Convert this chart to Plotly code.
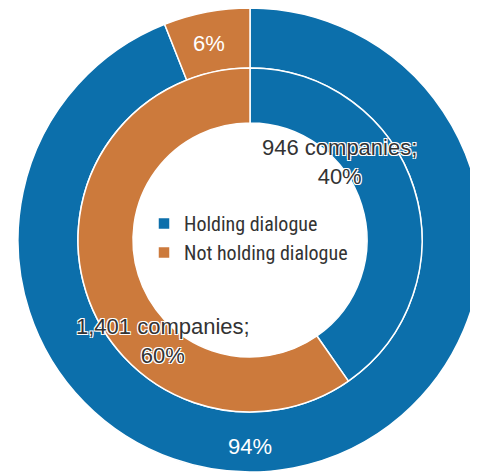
import plotly.graph_objects as go

# data
labels = ["Holding dialogue", "Not holding dialogue"]
inner_companies = [946, 1401]
inner_pct = [40, 60]
outer_pct = [94, 6]

colors = ["#0C6FAB", "#CC7A3C"]

W, H = 478, 475
OFF = 8  # page body margin
CX, CY = 250 - OFF, 240 - OFF
R_OUT = 232
R_MID = 172
R_HOLE = 117


def domain(r):
    return dict(x=[(CX - r) / W, (CX + r) / W],
                y=[1 - (CY + r) / H, 1 - (CY - r) / H])


def paper(px, py):
    return (px - OFF) / W, 1 - (py - OFF) / H


fig = go.Figure()

# outer ring
fig.add_trace(go.Pie(
    labels=labels,
    values=outer_pct,
    domain=domain(R_OUT),
    hole=R_MID / R_OUT,
    sort=False,
    direction="clockwise",
    rotation=0,
    marker=dict(colors=colors, line=dict(color="white", width=1.5)),
    textinfo="none",
    hoverinfo="label+percent",
    showlegend=True,
))

# inner ring
fig.add_trace(go.Pie(
    labels=labels,
    values=inner_companies,
    domain=domain(R_MID),
    hole=R_HOLE / R_MID,
    sort=False,
    direction="clockwise",
    rotation=0,
    marker=dict(colors=colors, line=dict(color="white", width=1.5)),
    textinfo="none",
    hoverinfo="label+value+percent",
    showlegend=False,
))

outline = "-1px -1px 0 #fff, 1px -1px 0 #fff, -1px 1px 0 #fff, 1px 1px 0 #fff"
dark_font = dict(family="Liberation Sans, Arial, sans-serif", size=22, color="#333333",
                 shadow=outline)

# inner ring labels
inner_label_pos = [(339, 162), (163, 341)]
for n, p, pos in zip(inner_companies, inner_pct, inner_label_pos):
    x, y = paper(*pos)
    fig.add_annotation(
        x=x, y=y, xref="paper", yref="paper",
        xanchor="center", yanchor="middle",
        text=f"{n:,} companies;<br>{p}%",
        showarrow=False, font=dark_font, align="center",
    )

# outer ring labels
outer_label_pos = [(250, 446), (209, 43)]
for p, pos in zip(outer_pct, outer_label_pos):
    x, y = paper(*pos)
    fig.add_annotation(
        x=x, y=y, xref="paper", yref="paper",
        xanchor="center", yanchor="middle",
        text=f"{p}%",
        showarrow=False,
        font=dict(family="Liberation Sans, Arial, sans-serif", size=22, color="white"),
    )

lx, ly = paper(144, 238)
fig.update_layout(
    width=W, height=H,
    margin=dict(l=0, r=0, t=0, b=0),
    paper_bgcolor="white",
    legend=dict(
        x=lx, y=ly, xanchor="left", yanchor="middle",
        bgcolor="rgba(0,0,0,0)",
        font=dict(family="Liberation Sans Narrow, Arial Narrow, Roboto Condensed, Liberation Sans, sans-serif",
                  size=20, color="#333333"),
    ),
)

fig.write_html("out.html")
